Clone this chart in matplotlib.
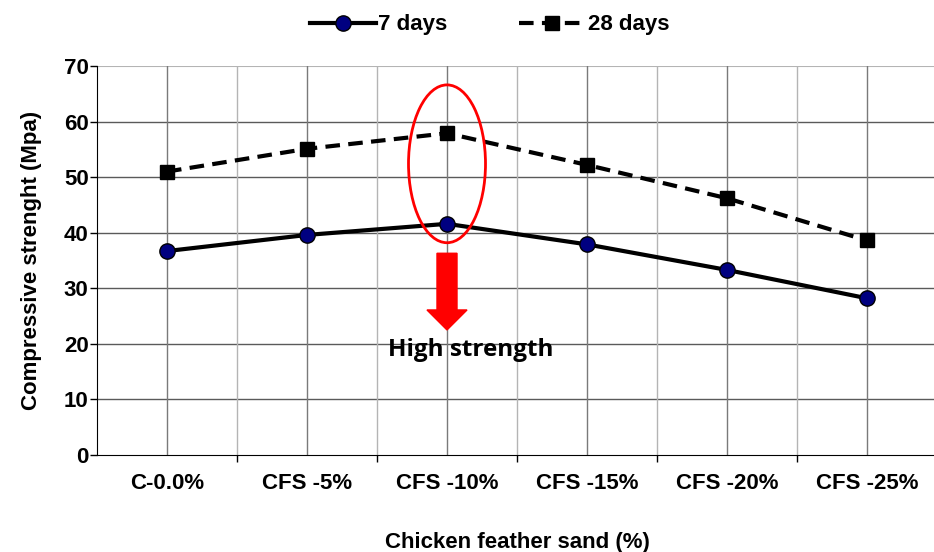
import numpy as np
import matplotlib.pyplot as plt
from matplotlib.patches import Ellipse, FancyArrow

categories = ["C-0.0%", "CFS -5%", "CFS -10%", "CFS -15%", "CFS -20%", "CFS -25%"]
days7 = [36.7, 39.6, 41.6, 37.9, 33.3, 28.2]
days28 = [51.0, 55.1, 57.9, 52.2, 46.2, 38.6]

plt.rcParams['font.family'] = ['Liberation Sans', 'DejaVu Sans']

fig = plt.figure(figsize=(9.34, 5.52), dpi=100)
ax = fig.add_axes([97/934, 1 - 455/552, 840/934, (455 - 66)/552])

x = np.arange(len(categories))

# grid: dark at categories and y ticks, light at category boundaries
for yv in range(10, 70, 10):
    ax.axhline(yv, color="#5a5a5a", lw=1, zorder=0)
ax.axhline(70, color="#b4b4b4", lw=1.5, zorder=0)
for xv in x:
    ax.axvline(xv, color="#7a7a7a", lw=1, zorder=0)
for xv in x[:-1] + 0.5:
    ax.axvline(xv, color="#b4b4b4", lw=1, zorder=0)

ax.plot(x, days7, color="black", lw=3, marker="o", markersize=11,
        markerfacecolor="#000080", markeredgecolor="black", markeredgewidth=1,
        label="7 days", zorder=3)
ax.plot(x, days28, color="black", lw=3, ls=(0, (3.5, 2)), marker="s", markersize=10,
        markerfacecolor="black", markeredgecolor="black",
        label="28 days", zorder=3)

ax.set_xlim(-0.5, 5.5)
ax.set_ylim(0, 70)
ax.set_yticks(range(0, 80, 10))
ax.set_xticks(x)
ax.set_xticklabels(categories)
ax.set_xticks(x[:-1] + 0.5, minor=True)
ax.tick_params(axis="x", which="major", length=0, pad=13, labelsize=16)
ax.tick_params(axis="x", which="minor", length=5, width=1, direction="out")
ax.tick_params(axis="y", length=5, width=1, direction="out", labelsize=16, pad=1)
for lab in ax.get_xticklabels() + ax.get_yticklabels():
    lab.set_fontweight("bold")

for s in ["top", "right"]:
    ax.spines[s].set_visible(False)
ax.spines["left"].set_color("black")
ax.spines["bottom"].set_color("black")

ax.set_ylabel("Compressive strenght (Mpa)", fontsize=16, fontweight="bold", labelpad=16)
ax.set_xlabel("Chicken feather sand (%)", fontsize=16, fontweight="bold", labelpad=27)

# highlight
ell = Ellipse((2, 52.4), width=0.55, height=28.4, fill=False, edgecolor="red", lw=2, zorder=4)
ax.add_patch(ell)
ax.add_patch(FancyArrow(2, 36.3, 0, -13.8, width=0.143, head_width=0.286, head_length=3.6,
                        length_includes_head=True, color="red", zorder=4))
ax.text(2.17, 18.9, "High strength", ha="center", va="center", fontsize=17.5,
        fontweight="bold", family=["Open Sans", "DejaVu Sans"], zorder=5)

leg = fig.legend(loc="upper center", bbox_to_anchor=(0.524, 1.01), ncol=2, frameon=False,
                 handlelength=3, columnspacing=3.2, handletextpad=0.1,
                 prop={"weight": "bold", "size": 16})

fig.savefig("out.png", dpi=100)
